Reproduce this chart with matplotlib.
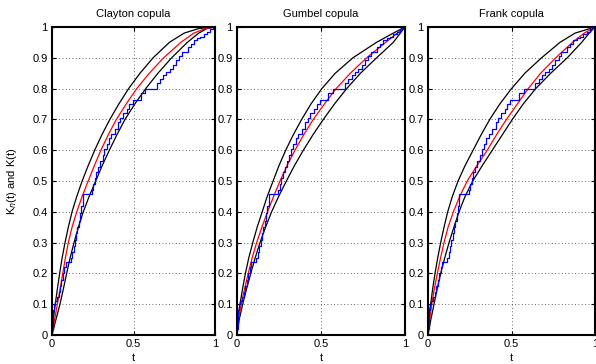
import numpy as np
import matplotlib
matplotlib.use('Agg')
import matplotlib.pyplot as plt

plt.rcParams['font.family'] = ['Liberation Sans', 'DejaVu Sans']
plt.rcParams['font.size'] = 8

# ---------------------------------------------------------------------------
# data: curves given as t at a set of K levels
# ---------------------------------------------------------------------------
titles = ['Clayton copula', 'Gumbel copula', 'Frank copula']

# Clayton
clay_up_k = [0.02, 0.1, 0.15, 0.2, 0.25, 0.3, 0.35, 0.4, 0.45, 0.5, 0.55, 0.6, 0.65, 0.7, 0.75, 0.8, 0.85, 0.9, 0.95, 0.98, 0.995, 1.0]
clay_up_t = [0, 0.02, 0.033, 0.047, 0.062, 0.08, 0.1, 0.123, 0.152, 0.185, 0.222, 0.262, 0.306, 0.355, 0.41, 0.47, 0.54, 0.62, 0.72, 0.81, 0.9, 1.0]
clay_red_k = [0, 0.05, 0.1, 0.15, 0.2, 0.25, 0.3, 0.35, 0.4, 0.45, 0.5, 0.55, 0.6, 0.65, 0.7, 0.75, 0.8, 0.85, 0.9, 0.95, 0.98, 0.995, 1.0]
clay_red_t = [0, 0.016, 0.033, 0.05, 0.066, 0.082, 0.1, 0.123, 0.152, 0.185, 0.222, 0.26, 0.3, 0.345, 0.395, 0.455, 0.52, 0.597, 0.685, 0.79, 0.87, 0.94, 1.0]
clay_lo_k = [0, 0.05, 0.1, 0.15, 0.2, 0.25, 0.3, 0.35, 0.4, 0.45, 0.5, 0.55, 0.6, 0.65, 0.7, 0.75, 0.8, 0.85, 0.9, 0.95, 0.98, 0.995, 1.0]
clay_lo_t = [0, 0.024, 0.049, 0.07, 0.09, 0.111, 0.135, 0.162, 0.192, 0.228, 0.268, 0.308, 0.352, 0.398, 0.448, 0.508, 0.575, 0.65, 0.734, 0.83, 0.9, 0.95, 1.0]

# Gumbel
gum_up_k = [0.04, 0.1, 0.15, 0.2, 0.25, 0.3, 0.35, 0.4, 0.45, 0.5, 0.55, 0.6, 0.65, 0.7, 0.75, 0.8, 0.85, 0.9, 0.95, 0.98, 1.0]
gum_up_t = [0, 0.018, 0.033, 0.05, 0.07, 0.094, 0.12, 0.15, 0.18, 0.215, 0.25, 0.29, 0.335, 0.385, 0.44, 0.505, 0.585, 0.69, 0.83, 0.93, 1.0]
gum_red_k = [0, 0.05, 0.1, 0.15, 0.2, 0.25, 0.3, 0.35, 0.4, 0.45, 0.5, 0.55, 0.6, 0.65, 0.7, 0.75, 0.8, 0.85, 0.9, 0.95, 1.0]
gum_red_t = [0, 0.008, 0.025, 0.045, 0.067, 0.09, 0.117, 0.148, 0.182, 0.218, 0.256, 0.298, 0.345, 0.397, 0.454, 0.52, 0.59, 0.675, 0.772, 0.885, 1.0]
gum_lo_k = [0, 0.05, 0.1, 0.15, 0.2, 0.25, 0.3, 0.35, 0.4, 0.45, 0.5, 0.55, 0.6, 0.65, 0.7, 0.75, 0.8, 0.85, 0.9, 0.95, 1.0]
gum_lo_t = [0, 0.013, 0.034, 0.057, 0.082, 0.108, 0.137, 0.17, 0.206, 0.248, 0.294, 0.342, 0.395, 0.452, 0.514, 0.58, 0.653, 0.735, 0.831, 0.93, 1.0]

# Frank
frk_up_k = [0.05, 0.1, 0.15, 0.2, 0.25, 0.3, 0.35, 0.4, 0.45, 0.5, 0.55, 0.6, 0.65, 0.7, 0.75, 0.8, 0.85, 0.9, 0.95, 0.98, 1.0]
frk_up_t = [0, 0.016, 0.028, 0.042, 0.058, 0.076, 0.096, 0.118, 0.146, 0.18, 0.222, 0.27, 0.318, 0.37, 0.43, 0.5, 0.58, 0.68, 0.79, 0.88, 1.0]
frk_red_k = [0, 0.05, 0.1, 0.15, 0.2, 0.25, 0.3, 0.35, 0.4, 0.45, 0.5, 0.55, 0.6, 0.65, 0.7, 0.75, 0.8, 0.85, 0.9, 0.95, 0.98, 1.0]
frk_red_t = [0, 0.01, 0.022, 0.038, 0.056, 0.075, 0.096, 0.12, 0.152, 0.19, 0.235, 0.293, 0.355, 0.41, 0.47, 0.535, 0.6, 0.675, 0.765, 0.865, 0.935, 1.0]
frk_lo_k = [0, 0.05, 0.1, 0.15, 0.2, 0.25, 0.3, 0.35, 0.4, 0.45, 0.5, 0.55, 0.6, 0.65, 0.7, 0.75, 0.8, 0.85, 0.9, 0.95, 0.98, 1.0]
frk_lo_t = [0, 0.017, 0.036, 0.055, 0.076, 0.1, 0.126, 0.155, 0.186, 0.222, 0.268, 0.325, 0.385, 0.445, 0.505, 0.57, 0.645, 0.735, 0.834, 0.92, 0.965, 1.0]

# empirical K_n (same sample in all three panels), step function
emp_t = [0, 0.004, 0.008, 0.014, 0.02, 0.03, 0.04, 0.05, 0.058, 0.066, 0.076, 0.086,
         0.116, 0.124, 0.132, 0.14, 0.148, 0.156, 0.164, 0.172, 0.18, 0.188,
         0.246, 0.254, 0.262, 0.272, 0.284, 0.296, 0.31, 0.322, 0.336, 0.35, 0.364,
         0.385, 0.405, 0.42, 0.435, 0.46, 0.475, 0.494, 0.544, 0.573, 0.643, 0.663,
         0.683, 0.702, 0.722, 0.742, 0.762, 0.782, 0.797, 0.832, 0.851, 0.871, 0.891,
         0.91, 0.93, 0.95, 0.97, 0.985, 1.0]
emp_k = [0.02, 0.05, 0.08, 0.10, 0.11, 0.125, 0.14, 0.16, 0.18, 0.20, 0.22, 0.236,
         0.25, 0.27, 0.29, 0.31, 0.33, 0.35, 0.37, 0.395, 0.42, 0.458,
         0.47, 0.49, 0.51, 0.53, 0.545, 0.565, 0.585, 0.605, 0.62, 0.64, 0.653,
         0.67, 0.69, 0.705, 0.72, 0.735, 0.75, 0.763, 0.785, 0.80, 0.817, 0.83,
         0.844, 0.855, 0.865, 0.878, 0.893, 0.905, 0.92, 0.936, 0.945, 0.958, 0.965,
         0.969, 0.978, 0.985, 0.993, 1.0, 1.0]

bands = [
    ((clay_up_t, clay_up_k), (clay_red_t, clay_red_k), (clay_lo_t, clay_lo_k)),
    ((gum_up_t, gum_up_k), (gum_red_t, gum_red_k), (gum_lo_t, gum_lo_k)),
    ((frk_up_t, frk_up_k), (frk_red_t, frk_red_k), (frk_lo_t, frk_lo_k)),
]

xticks = [0, 0.5, 1]
xticklabels = ['0', '0.5', '1']
yticks = np.arange(0, 1.01, 0.1)
yticklabels = ['0', '0.1', '0.2', '0.3', '0.4', '0.5', '0.6', '0.7', '0.8', '0.9', '1']

# ---------------------------------------------------------------------------
fig = plt.figure(figsize=(5.96, 3.64), dpi=100)
W, H = 596.0, 364.0
lefts = [52, 237, 428]
widths = [163, 168, 167]
bottom, top = 335, 27

for i in range(3):
    ax = fig.add_axes([lefts[i] / W, 1 - bottom / H, widths[i] / W, (bottom - top) / H])
    up, red, lo = bands[i]
    ax.plot(up[0], up[1], color='k', lw=0.9)
    ax.plot(lo[0], lo[1], color='k', lw=0.9)
    ax.plot(red[0], red[1], color=(1, 0, 0), lw=0.9)
    ax.plot(emp_t, emp_k, color=(0, 0, 1), lw=0.9, drawstyle='steps-post')

    ax.set_xlim(0, 1)
    ax.set_ylim(0, 1)
    ax.set_xticks(xticks)
    ax.set_xticklabels(xticklabels)
    ax.set_yticks(yticks)
    ax.set_yticklabels(yticklabels)
    ax.tick_params(direction='in', length=3, width=0.8, top=True, right=True,
                   labelsize=8, pad=3)
    ax.grid(True, linestyle=(0, (1, 3)), color='k', lw=0.6, alpha=0.8)
    for s in ax.spines.values():
        s.set_linewidth(1.5)
    ax.set_title(titles[i], fontsize=8, pad=7)
    ax.set_xlabel('t', fontsize=8, labelpad=2.5)
    if i == 0:
        ax.set_ylabel(r'K$_n$(t) and K(t)', fontsize=8, labelpad=10)

fig.savefig('out.png', dpi=100)
